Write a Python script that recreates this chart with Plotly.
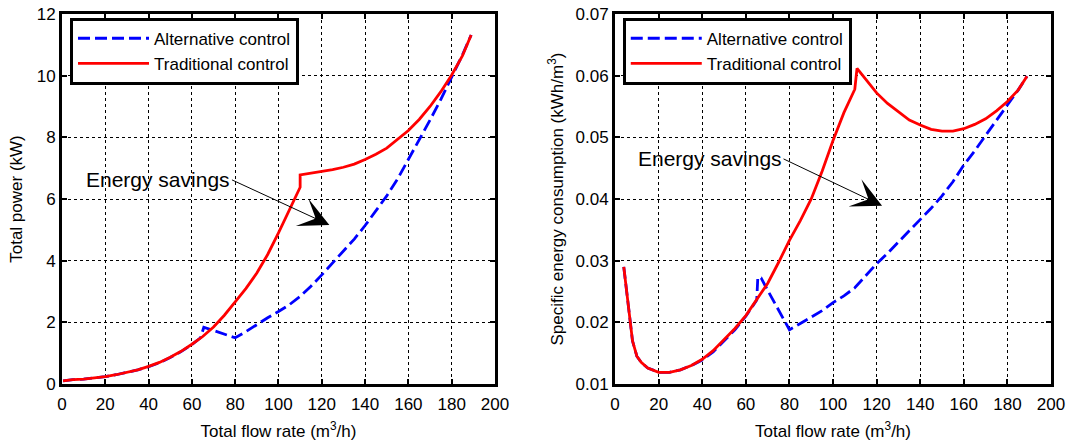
import plotly.graph_objects as go

# ---------------- data ----------------
# Left panel: total power (kW) vs total flow rate (m3/h)
flow_trad_p = [0.5, 5, 10, 15, 20, 25, 30, 35, 40, 45, 50, 55, 60, 65, 70, 75, 80, 85, 90, 95,
               100, 105, 110, 110, 115, 120, 125, 130, 135, 140, 145, 150, 155, 160, 165, 170,
               175, 180, 185, 189]
power_trad = [0.10, 0.14, 0.16, 0.19, 0.24, 0.30, 0.37, 0.46, 0.57, 0.70, 0.87, 1.06, 1.29, 1.54,
              1.85, 2.23, 2.66, 3.10, 3.60, 4.20, 4.90, 5.65, 6.38, 6.78, 6.83, 6.88, 6.95, 7.03,
              7.13, 7.28, 7.45, 7.65, 7.92, 8.22, 8.58, 9.00, 9.48, 10.02, 10.65, 11.32]

flow_alt_p = [0.5, 5, 10, 15, 20, 25, 30, 35, 40, 45, 50, 55, 60, 64, 65.5, 70, 75, 80, 85, 90,
              95, 100, 105, 110, 115, 120, 125, 130, 135, 140, 145, 150, 155, 160, 165, 170,
              175, 180, 185, 189]
power_alt = [0.10, 0.14, 0.16, 0.19, 0.24, 0.30, 0.37, 0.46, 0.56, 0.69, 0.86, 1.05, 1.28, 1.50,
             1.84, 1.74, 1.62, 1.50, 1.70, 1.93, 2.15, 2.35, 2.57, 2.84, 3.17, 3.54, 3.92, 4.30,
             4.70, 5.14, 5.60, 6.10, 6.65, 7.28, 7.90, 8.56, 9.23, 9.95, 10.68, 11.32]

# Right panel: specific energy consumption (kWh/m3) vs total flow rate (m3/h)
flow_trad_s = [4, 6, 8, 10, 12, 15, 20, 25, 30, 35, 40, 45, 50, 55, 60, 65, 70, 75, 80, 85, 90,
               95, 100, 105, 110, 111, 115, 120, 125, 130, 135, 140, 145, 150, 155, 160, 165,
               170, 175, 180, 185, 189]
sec_trad = [0.0290, 0.0225, 0.0170, 0.0145, 0.0135, 0.0126, 0.0119, 0.0119, 0.0123, 0.0130,
            0.0140, 0.0154, 0.0172, 0.0190, 0.0211, 0.0236, 0.0263, 0.0297, 0.0333, 0.0365,
            0.0400, 0.0445, 0.0495, 0.0540, 0.0578, 0.0612, 0.0595, 0.0572, 0.0555, 0.0541,
            0.0528, 0.0520, 0.0513, 0.0510, 0.0510, 0.0514, 0.0521, 0.0530, 0.0543, 0.0558,
            0.0577, 0.0599]

flow_alt_s = [4, 6, 8, 10, 12, 15, 20, 25, 30, 35, 40, 45, 50, 55, 60, 65, 65.5, 67, 70, 75, 80,
              85, 90, 95, 100, 105, 110, 115, 120, 125, 130, 135, 140, 145, 150, 155, 160, 165,
              170, 175, 180, 185, 189]
sec_alt = [0.0290, 0.0225, 0.0170, 0.0145, 0.0135, 0.0126, 0.0119, 0.0119, 0.0123, 0.0130,
           0.0139, 0.0152, 0.0170, 0.0188, 0.0210, 0.0236, 0.0273, 0.0272, 0.0252, 0.0220,
           0.0188, 0.0198, 0.0208, 0.0219, 0.0232, 0.0243, 0.0256, 0.0275, 0.0295, 0.0312,
           0.0330, 0.0348, 0.0367, 0.0385, 0.0405, 0.0428, 0.0455, 0.0478, 0.0503, 0.0527,
           0.0553, 0.0577, 0.0599]

x_ticks = [0, 20, 40, 60, 80, 100, 120, 140, 160, 180, 200]
y1_ticks = [0, 2, 4, 6, 8, 10, 12]
y2_ticks = [0.01, 0.02, 0.03, 0.04, 0.05, 0.06, 0.07]

names = ["Alternative control", "Traditional control"]

# ---------------- figure ----------------
FONT = "Liberation Sans, Arial, Helvetica, sans-serif"
BLUE = "#0000FF"
RED = "#FF0000"
DASH = "12px,5px"
FS = 17
LW = 2.8

fig = go.Figure()

fig.add_trace(go.Scatter(x=flow_alt_p, y=power_alt, mode="lines", name=names[0],
                         line=dict(color=BLUE, width=LW, dash=DASH),
                         xaxis="x", yaxis="y", legend="legend"))
fig.add_trace(go.Scatter(x=flow_trad_p, y=power_trad, mode="lines", name=names[1],
                         line=dict(color=RED, width=LW),
                         xaxis="x", yaxis="y", legend="legend"))
fig.add_trace(go.Scatter(x=flow_alt_s, y=sec_alt, mode="lines", name=names[0],
                         line=dict(color=BLUE, width=LW, dash=DASH),
                         xaxis="x2", yaxis="y2", legend="legend2"))
fig.add_trace(go.Scatter(x=flow_trad_s, y=sec_trad, mode="lines", name=names[1],
                         line=dict(color=RED, width=LW),
                         xaxis="x2", yaxis="y2", legend="legend2"))

axis_common = dict(
    showline=True, linecolor="black", linewidth=3, mirror="allticks",
    ticks="inside", ticklen=5, tickwidth=1.5, tickcolor="black",
    showgrid=True, gridcolor="black", gridwidth=1, griddash="dot",
    zeroline=False, automargin=False,
    tickfont=dict(family=FONT, size=FS, color="black"),
    title_font=dict(family=FONT, size=FS, color="black"),
)

xtitle = "Total flow rate (m<sup>3</sup>/h)"
legend_common = dict(xanchor="left", yanchor="top", y=0.99,
                     bgcolor="white", bordercolor="black", borderwidth=3,
                     font=dict(family=FONT, size=FS, color="black"), itemwidth=71,
                     tracegroupgap=0)

fig.update_layout(
    width=1073, height=443,
    margin=dict(l=62, r=22, t=14, b=59, autoexpand=False),
    paper_bgcolor="white", plot_bgcolor="white",
    font=dict(family=FONT, size=FS, color="black"),
    xaxis=dict(domain=[0, 0.4378], range=[0, 200], tickvals=x_ticks, anchor="y",
               ticklabelstandoff=3, title=dict(text=xtitle, standoff=12), **axis_common),
    yaxis=dict(domain=[0, 1], range=[0, 12], tickvals=y1_ticks, anchor="x",
               title=dict(text="Total power (kW)", standoff=10), **axis_common),
    xaxis2=dict(domain=[0.5592, 1], range=[0, 200], tickvals=x_ticks, anchor="y2",
                ticklabelstandoff=3, title=dict(text=xtitle, standoff=12), **axis_common),
    yaxis2=dict(domain=[0, 1], range=[0.01, 0.07], tickvals=y2_ticks, tickformat=".2f",
                anchor="x2",
                title=dict(text="Specific energy consumption (kWh/m<sup>3</sup>)", standoff=8),
                **axis_common),
    legend=dict(x=0.0081, **legend_common),
    legend2=dict(x=0.567, **legend_common),
    showlegend=True,
)

# "Energy savings" annotations with arrows (text box ends where the arrow tail starts)
ann_text = "Energy savings"
fig.add_annotation(x=123.5, y=5.16, ax=78.5, ay=6.62, xref="x", yref="y", axref="x", ayref="y",
                   text=ann_text, xanchor="right", yanchor="middle",
                   font=dict(family=FONT, size=21, color="black"),
                   showarrow=True, arrowhead=3, arrowsize=5, arrowwidth=1, arrowcolor="black")
fig.add_annotation(x=122.5, y=0.0389, ax=77.3, ay=0.0465, xref="x2", yref="y2", axref="x2",
                   ayref="y2", text=ann_text, xanchor="right", yanchor="middle",
                   font=dict(family=FONT, size=21, color="black"),
                   showarrow=True, arrowhead=3, arrowsize=5, arrowwidth=1, arrowcolor="black")

fig.write_html("out.html")
